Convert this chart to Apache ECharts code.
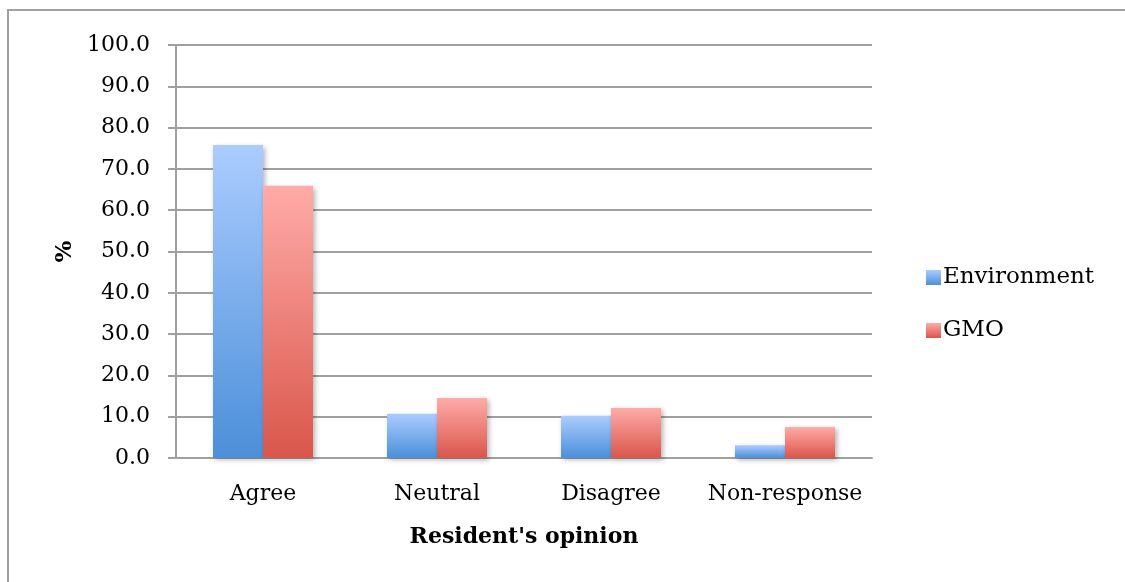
<!DOCTYPE html>
<html><head><meta charset="utf-8">
<script src="https://cdn.jsdelivr.net/npm/echarts@6/dist/echarts.min.js"></script>
<style>html,body{margin:0;padding:0;background:#fff}#c{width:1125px;height:582px}</style>
</head><body><div id="c"></div>
<script>
const categories = ['Agree', 'Neutral', 'Disagree', 'Non-response'];
const environment = [75.8, 10.7, 10.2, 3.1];
const gmo = [65.9, 14.5, 12.1, 7.5];
const yTicks = { min: 0, max: 100, interval: 10 };

const FONT = 'DejaVu Serif';
const chart = echarts.init(document.getElementById('c'), null, { renderer: 'canvas' });
const grad = (top, bottom) => new echarts.graphic.LinearGradient(0, 0, 0, 1, [
  { offset: 0, color: top }, { offset: 1, color: bottom }
]);
const blue = grad('#abccff', '#4b8fd8');
const red = grad('#ffaba8', '#d9564a');
const shadow = { shadowBlur: 5, shadowOffsetX: 2, shadowOffsetY: 2, shadowColor: 'rgba(0,0,0,0.3)' };

chart.setOption({
  animation: false,
  backgroundColor: '#fff',
  textStyle: { fontFamily: FONT, color: '#000' },
  graphic: [{
    type: 'polyline',
    shape: { points: [[8, 600], [8, 10], [1140, 10]] },
    style: { stroke: '#a0a0a0', lineWidth: 2, fill: null }
  }],
  grid: { left: 176, right: 253, top: 45, bottom: 124 },
  legend: {
    orient: 'vertical', left: 921, top: 261, itemWidth: 15, itemHeight: 15, itemGap: 30,
    icon: 'rect',
    textStyle: { fontFamily: FONT, fontSize: 23, color: '#000', padding: [0, 0, 0, -3] },
    data: ['Environment', 'GMO']
  },
  xAxis: {
    type: 'category', data: categories,
    name: "Resident's opinion", nameLocation: 'middle', nameGap: 68,
    nameTextStyle: { fontFamily: FONT, fontSize: 22, fontWeight: 'bold', color: '#000' },
    axisLine: { lineStyle: { color: '#a0a0a0', width: 2 } },
    axisTick: { show: false },
    axisLabel: { fontFamily: FONT, fontSize: 22, color: '#000', margin: 25, interval: 0 }
  },
  yAxis: {
    type: 'value', min: yTicks.min, max: yTicks.max, interval: yTicks.interval,
    name: '%', nameLocation: 'middle', nameGap: 99, nameRotate: 90,
    nameTextStyle: { fontFamily: FONT, fontSize: 23, fontWeight: 'bold', color: '#000' },
    axisLine: { show: true, lineStyle: { color: '#a0a0a0', width: 2 } },
    axisTick: { show: true, length: 8, lineStyle: { color: '#a0a0a0', width: 2 } },
    splitLine: { lineStyle: { color: '#a0a0a0', width: 2 } },
    axisLabel: { fontFamily: FONT, fontSize: 22, color: '#000', margin: 26, formatter: v => v.toFixed(1) }
  },
  series: [
    { name: 'Environment', type: 'bar', data: environment, barWidth: 50, barGap: '0%',
      itemStyle: Object.assign({ color: blue }, shadow) },
    { name: 'GMO', type: 'bar', data: gmo, barWidth: 50, barGap: '0%',
      itemStyle: Object.assign({ color: red }, shadow) }
  ]
});
</script></body></html>
